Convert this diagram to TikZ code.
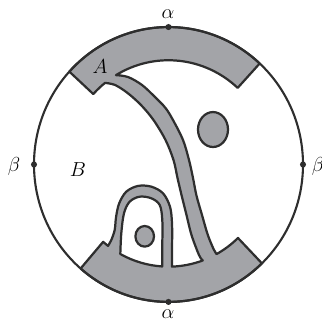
\documentclass[tikz,border=0pt]{standalone}
\usepackage{tikz}
\definecolor{bandgray}{HTML}{A3A4A8}
\definecolor{edge}{HTML}{2E2E2E}
\tikzset{
  gband/.style={fill=bandgray, draw=edge, line width=1.9pt, line join=round},
  holefill/.style={fill=white, draw=edge, line width=1.9pt, line join=round},
  ring/.style={draw=edge, line width=1.8pt},
  lab/.style={font=\fontsize{16}{19}\selectfont, inner sep=0pt},
  pt/.style={fill=edge}
}
\begin{document}
\begin{tikzpicture}[x=0.03cm, y=0.03066cm]
\useasboundingbox (-168.5,-154.1) rectangle (153.5,160.96);
% main gray region: top band, arm, bottom band, loop
\filldraw[gband]
  (137.5:134.5) arc[start angle=137.5, end angle=47.3, radius=134.5]
  -- (47.3:102) arc[start angle=47.3, end angle=121, radius=102]
  -- plot[smooth, tension=0.55] coordinates {(121:102) (-40.5,85.6) (-26.5,77.8) (-13.5,66.0) (-3,55.3) (4.5,43.5) (14.5,24.0) (20.5,4.4) (24.5,-13.2) (28,-30.5) (33.5,-49.4) (39,-68.0) (44.5,-81.5) (-61.3:100)}
  arc[start angle=-61.3, end angle=-46, radius=100]
  -- (-46:134.5) arc[start angle=-46, end angle=-130.8, radius=134.5]
  -- (-130.8:100) arc[start angle=-130.8, end angle=-127.2, radius=100]
  -- plot[smooth, tension=0.55] coordinates {(-127.2:100) (-57.2,-73.9) (-53.8,-64.1) (-52.4,-51.1) (-49.3,-38.0) (-42.2,-26.6) (-30.5,-21.0) (-17.2,-21.7) (-5.5,-28.2) (1.5,-41.3) (3.5,-57.5) (3.6,-80) (-88:100)}
  arc[start angle=-88, end angle=-70, radius=100]
  -- plot[smooth, tension=0.55] coordinates {(-70:100) (30.5,-88.6) (23,-69.0) (18,-49.4) (13,-29.8) (9,-13.2) (5,4.4) (-3,24.0) (-15,43.5) (-27.5,58.2) (-41,70.0) (-53.5,77.8) (128.5:102)}
  arc[start angle=128.5, end angle=137.5, radius=102]
  -- cycle;
% hole inside the loop
\filldraw[holefill]
  plot[smooth, tension=0.55] coordinates {(-118.8:100) (-47.2,-67.3) (-44.5,-47.7) (-38.8,-36.4) (-28.8,-31.5) (-17.2,-33.1) (-8.8,-39.6) (-6.2,-54.3) (-6.2,-80) (-93.6:100)}
  arc[start angle=-93.6, end angle=-118.8, radius=100] -- cycle;
% ovals
\filldraw[gband] (-23.8,-70.3) ellipse[x radius=9.3, y radius=10.1];
\filldraw[gband] (44.5,34.2) ellipse[x radius=15, y radius=17.1];
% boundary circle
\draw[ring] (0,0) circle[radius=134.5];
% marked points
\coordinate (pT) at (90:134.5);
\coordinate (pB) at (-90:134.5);
\coordinate (pL) at (180:134.5);
\coordinate (pR) at (0:134.5);
\fill[pt] (pT) circle[radius=2.6pt];
\fill[pt] (pB) circle[radius=2.6pt];
\fill[pt] (pL) circle[radius=2.6pt];
\fill[pt] (pR) circle[radius=2.6pt];
% labels
\node[lab] (aT) at (-0.5,147.2) {$\alpha$};
\node[lab] (aB) at (-0.5,-146) {$\alpha$};
\node[lab] (bL) at (-154.5,-2.4) {$\beta$};
\node[lab] (bR) at (149.5,-1.5) {$\beta$};
\node[lab] (lA) at (-68.5,95.4) {$A$};
\node[lab] (lB) at (-90.5,-5.4) {$B$};
\end{tikzpicture}
\end{document}
